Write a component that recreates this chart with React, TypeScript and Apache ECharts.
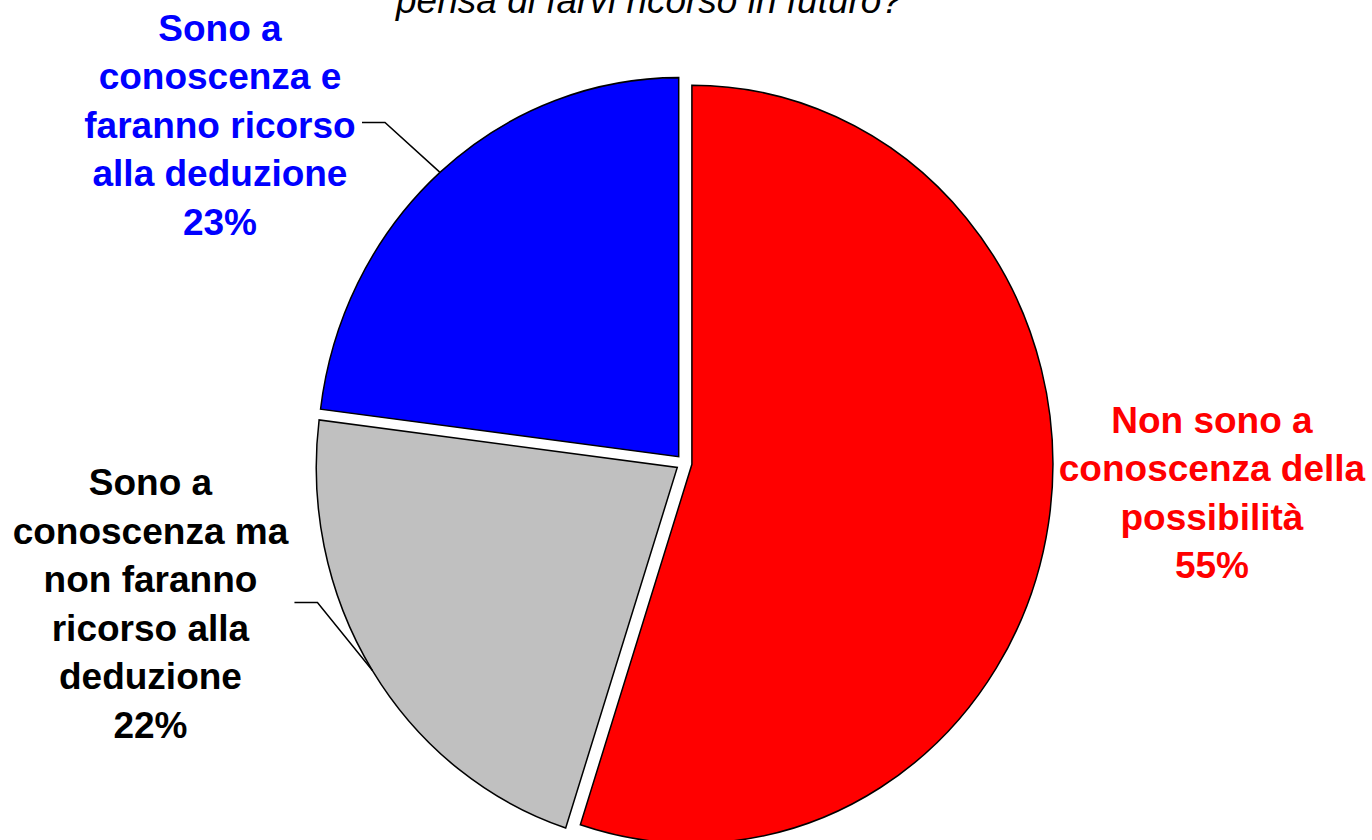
import React, { useEffect, useRef } from "react";
import * as echarts from "echarts";

// ---- data ----
const categories = [
  "Non sono a conoscenza della possibilità",
  "Sono a conoscenza ma non faranno ricorso alla deduzione",
  "Sono a conoscenza e faranno ricorso alla deduzione",
];
const labelTexts = [
  "Non sono a\nconoscenza della\npossibilità",
  "Sono a\nconoscenza ma\nnon faranno\nricorso alla\ndeduzione",
  "Sono a\nconoscenza e\nfaranno ricorso\nalla deduzione",
];
const values = [55, 22, 23];
const sliceColors = ["#FF0000", "#C0C0C0", "#0000FF"];
const labelColors = ["#FF0000", "#000000", "#0000FF"];
const titleText = "pensa di farvi ricorso in futuro?";

// ---- layout (not data) ----
const PIE = { cx: 684, cy: 463, rx: 361, ry: 379, explode: 8 };
const labelLayout = [
  { dx: 163.5, dy: -30.5, leader: null as null | number[][] },
  { dx: -222, dy: -66.5, leader: [[-55, -68], [-78, -68]] },
  { dx: -220, dy: -47, leader: [[-55, -50], [-78, -50]] },
];
const FONT = '"Liberation Sans", Arial, Helvetica, sans-serif';

export default function App() {
  const ref = useRef<HTMLDivElement>(null);

  useEffect(() => {
    if (!ref.current) return;
    const chart = echarts.init(ref.current, undefined, { renderer: "svg" });
    const total = values.reduce((a, b) => a + b, 0);
    const k = PIE.ry / PIE.rx;

    const renderItem = (params: any, api: any) => {
      const i = params.dataIndex;
      const v = api.value(0);
      let before = 0;
      for (let j = 0; j < i; j++) before += values[j];
      const a0 = (before / total) * Math.PI * 2; // clockwise from top
      const a1 = ((before + v) / total) * Math.PI * 2;
      const mid = (a0 + a1) / 2;
      const ox = PIE.explode * Math.sin(mid);
      const oy = -PIE.explode * Math.cos(mid);
      // edge point at mid angle (screen coords)
      const ex = PIE.cx + ox + PIE.rx * Math.sin(mid);
      const ey = PIE.cy + (oy - PIE.rx * Math.cos(mid)) * k;
      const lay = labelLayout[i];
      const pct = Math.round((v / total) * 100);
      const children: any[] = [
        {
          type: "group",
          x: PIE.cx,
          y: PIE.cy,
          scaleY: k,
          children: [
            {
              type: "sector",
              shape: {
                cx: ox,
                cy: oy,
                r: PIE.rx,
                r0: 0,
                startAngle: a0 - Math.PI / 2,
                endAngle: a1 - Math.PI / 2,
                clockwise: true,
              },
              style: {
                fill: sliceColors[i],
                stroke: "#000",
                lineWidth: 1.5,
                strokeNoScale: true,
              },
            },
          ],
        },
        {
          type: "text",
          x: ex + lay.dx,
          y: ey + lay.dy,
          style: {
            text: `${labelTexts[i]}\n${pct}%`,
            fill: labelColors[i],
            fontSize: 37,
            fontWeight: "bold",
            fontFamily: FONT,
            align: "center",
            verticalAlign: "middle",
            lineHeight: 48.5,
          },
        },
      ];
      if (lay.leader) {
        children.push({
          type: "polyline",
          shape: {
            points: [[ex, ey], ...lay.leader.map((p) => [ex + p[0], ey + p[1]])],
          },
          style: { stroke: "#000", lineWidth: 1.5, fill: null },
        });
      }
      return { type: "group", children };
    };

    chart.setOption({
      animation: false,
      backgroundColor: "#ffffff",
      graphic: [
        {
          type: "text",
          x: 649,
          y: 0,
          style: {
            text: titleText,
            fill: "#000",
            fontSize: 37,
            fontStyle: "italic",
            fontFamily: FONT,
            align: "center",
            verticalAlign: "middle",
          },
        },
      ],
      series: [
        {
          type: "custom",
          coordinateSystem: "none",
          renderItem,
          data: values.map((v, i) => ({ name: categories[i], value: [v] })),
        },
      ],
    });
    return () => chart.dispose();
  }, []);

  return (
    <div
      ref={ref}
      style={{ position: "absolute", left: 0, top: 0, width: 1372, height: 840 }}
    />
  );
}
